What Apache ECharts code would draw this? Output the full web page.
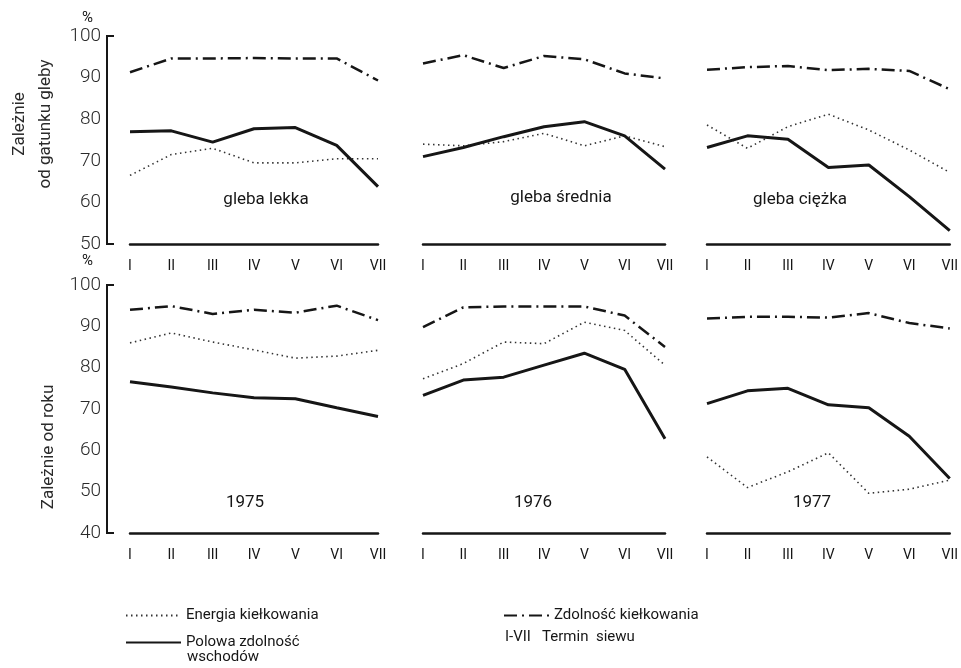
<!DOCTYPE html>
<html>
<head>
<meta charset="utf-8">
<script src="https://cdn.jsdelivr.net/npm/echarts@6/dist/echarts.min.js"></script>
<style>
    html, body { margin: 0; padding: 0; background: #fff; }
    #chart { width: 961px; height: 668px; }
</style>
</head>
<body>
<div id="chart"></div>
<script>
// terminy siewu I-VII
const terms = ['I', 'II', 'III', 'IV', 'V', 'VI', 'VII'];

// panele: gleba lekka / średnia / ciężka, lata 1975 / 1976 / 1977
const panelNames = ['gleba lekka', 'gleba średnia', 'gleba ciężka', '1975', '1976', '1977'];

// Energia kiełkowania
const energiaLekka   = [66.5, 71.5, 73.0, 69.5, 69.5, 70.5, 70.5];
const energiaSrednia = [74.0, 73.6, 74.6, 76.6, 73.6, 76.0, 73.4];
const energiaCiezka  = [78.6, 73.0, 78.2, 81.2, 77.4, 72.6, 67.2];
const energia1975    = [86.0, 88.4, 86.2, 84.3, 82.3, 82.8, 84.2];
const energia1976    = [77.3, 81.0, 86.2, 85.8, 91.0, 89.0, 80.6];
const energia1977    = [58.4, 51.0, 54.8, 59.4, 49.6, 50.6, 52.8];

// Zdolność kiełkowania
const zdolnoscLekka   = [91.3, 94.6, 94.6, 94.7, 94.6, 94.6, 89.3];
const zdolnoscSrednia = [93.4, 95.4, 92.3, 95.2, 94.4, 91.0, 89.8];
const zdolnoscCiezka  = [91.9, 92.5, 92.8, 91.8, 92.1, 91.6, 87.2];
const zdolnosc1975    = [94.0, 94.9, 93.0, 94.0, 93.3, 95.0, 91.5];
const zdolnosc1976    = [89.8, 94.6, 94.8, 94.8, 94.8, 92.6, 85.0];
const zdolnosc1977    = [91.9, 92.3, 92.3, 92.1, 93.2, 90.8, 89.5];

// Polowa zdolność wschodów
const polowaLekka   = [77.0, 77.2, 74.5, 77.7, 78.0, 73.7, 63.8];
const polowaSrednia = [71.0, 73.2, 75.8, 78.2, 79.4, 76.0, 68.0];
const polowaCiezka  = [73.2, 76.0, 75.2, 68.4, 69.0, 61.4, 53.2];
const polowa1975    = [76.6, 75.3, 73.9, 72.7, 72.5, 70.3, 68.2];
const polowa1976    = [73.3, 77.0, 77.7, 80.6, 83.5, 79.6, 62.8];
const polowa1977    = [71.3, 74.4, 75.0, 71.0, 70.3, 63.4, 53.2];

const energia = [energiaLekka, energiaSrednia, energiaCiezka, energia1975, energia1976, energia1977];
const zdolnosc = [zdolnoscLekka, zdolnoscSrednia, zdolnoscCiezka, zdolnosc1975, zdolnosc1976, zdolnosc1977];
const polowa = [polowaLekka, polowaSrednia, polowaCiezka, polowa1975, polowa1976, polowa1977];

// osie Y: górny rząd 50-100, dolny 40-100
const yMinTop = 50, yMinBottom = 40, yMax = 100;

const FONT = 'Roboto, "Liberation Sans", sans-serif';
const INK = '#161616';
const AXIS_OFFSET = 23;

let chart = echarts.init(document.getElementById('chart'));

// układ paneli
const cols = [{left: 130, width: 248}, {left: 423, width: 242}, {left: 707, width: 249}];
const rows = [{top: 36, height: 208}, {top: 285, height: 248}];

let grid = [], xAxis = [], yAxis = [], series = [];

for (let i = 0; i < 6; i++) {
    let c = cols[i % 3], r = rows[Math.floor(i / 3)];
    let first = (i % 3 === 0);
    let min = i < 3 ? yMinTop : yMinBottom;
    grid.push({left: c.left, width: c.width, top: r.top, height: r.height});
    xAxis.push({
        type: 'category',
        gridIndex: i,
        data: terms,
        boundaryGap: false,
        axisLine: {lineStyle: {color: INK, width: 2.5}},
        axisTick: {show: false},
        axisLabel: {color: INK, fontFamily: FONT, fontSize: 14, margin: 15, interval: 0}
    });
    yAxis.push({
        type: 'value',
        gridIndex: i,
        position: 'left',
        min: min,
        max: yMax,
        interval: 10,
        show: first,
        offset: AXIS_OFFSET,
        name: '%',
        nameLocation: 'end',
        nameGap: i === 0 ? 10 : 16,
        nameTextStyle: {color: INK, fontFamily: FONT, fontSize: 15, align: 'right', padding: [0, 14, 0, 0]},
        splitLine: {show: false},
        axisLine: {show: true, onZero: false, lineStyle: {color: INK, width: 2}},
        axisTick: {show: true, inside: true, length: 7, customValues: [min, yMax], lineStyle: {color: INK, width: 2}},
        axisLabel: {color: '#2a2a2a', fontFamily: FONT, fontSize: 19, fontWeight: 300, margin: 6}
    });
    series.push({
        name: 'Energia kiełkowania',
        type: 'line',
        xAxisIndex: i, yAxisIndex: i,
        data: energia[i],
        symbol: 'none',
        itemStyle: {color: '#333'},
        lineStyle: {color: '#333', width: 1.6, type: [1.5, 3.5]},
        z: 2
    });
    series.push({
        name: 'Zdolność kiełkowania',
        type: 'line',
        xAxisIndex: i, yAxisIndex: i,
        data: zdolnosc[i],
        symbol: 'none',
        itemStyle: {color: INK},
        lineStyle: {color: INK, width: 2.5, type: [13, 5, 2, 5]},
        z: 3
    });
    series.push({
        name: 'Polowa zdolność wschodów',
        type: 'line',
        xAxisIndex: i, yAxisIndex: i,
        data: polowa[i],
        symbol: 'none',
        itemStyle: {color: INK},
        lineStyle: {color: INK, width: 3},
        z: 4
    });
}

// napisy w panelach
let panelPos = [[266, 200], [561, 198], [800, 200], [245, 503], [533, 503], [812, 503]];
let graphic = panelNames.map((t, i) => ({
    type: 'text',
    x: panelPos[i][0],
    y: panelPos[i][1],
    style: {text: t, fill: INK, font: '17px ' + FONT, align: 'center', verticalAlign: 'middle'}
}));

graphic.push({
    type: 'text', x: 33, y: 124, rotation: Math.PI / 2,
    style: {text: 'Zależnie\nod gatunku gleby', fill: '#2a2a2a', font: '17px ' + FONT,
        align: 'center', verticalAlign: 'middle', lineHeight: 26}
});
graphic.push({
    type: 'text', x: 49, y: 447, rotation: Math.PI / 2,
    style: {text: 'Zależnie od roku', fill: '#2a2a2a', font: '17px ' + FONT,
        align: 'center', verticalAlign: 'middle'}
});
graphic.push({
    type: 'text', x: 505, y: 637,
    style: {text: 'I-VII   Termin  siewu', fill: INK, font: '15px ' + FONT, verticalAlign: 'middle'}
});
graphic.push({
    type: 'text', x: 187, y: 657,
    style: {text: 'wschodów', fill: INK, font: '15px ' + FONT, verticalAlign: 'middle'}
});

let legendBase = {
    orient: 'horizontal',
    itemWidth: 55,
    itemHeight: 14,
    itemGap: 10,
    itemStyle: {opacity: 0},
    textStyle: {color: INK, fontFamily: FONT, fontSize: 15}
};

let option = {
    backgroundColor: '#fff',
    animation: false,
    grid: grid,
    xAxis: xAxis,
    yAxis: yAxis,
    series: series,
    graphic: graphic,
    legend: [
        Object.assign({}, legendBase, {left: 120, top: 603, data: ['Energia kiełkowania']}),
        Object.assign({}, legendBase, {left: 498, top: 603, itemWidth: 45, data: ['Zdolność kiełkowania']}),
        Object.assign({}, legendBase, {
            left: 120, top: 630, data: ['Polowa zdolność wschodów'],
            formatter: () => 'Polowa zdolność'
        })
    ]
};

chart.setOption(option);

// ramka osi Y (linia + kreski na końcach), liczona ze skali osi
let axisFrames = [0, 3].map((g) => {
    let min = g === 0 ? yMinTop : yMinBottom;
    let x = cols[0].left - AXIS_OFFSET;
    let yTop = chart.convertToPixel({yAxisIndex: g}, yMax);
    let yBottom = chart.convertToPixel({yAxisIndex: g}, min);
    return {
        type: 'polyline',
        shape: {points: [[x + 7, yTop], [x, yTop], [x, yBottom], [x + 7, yBottom]]},
        style: {stroke: INK, lineWidth: 2, fill: null},
        z: 10
    };
});
chart.setOption({graphic: graphic.concat(axisFrames)});
</script>
</body>
</html>
